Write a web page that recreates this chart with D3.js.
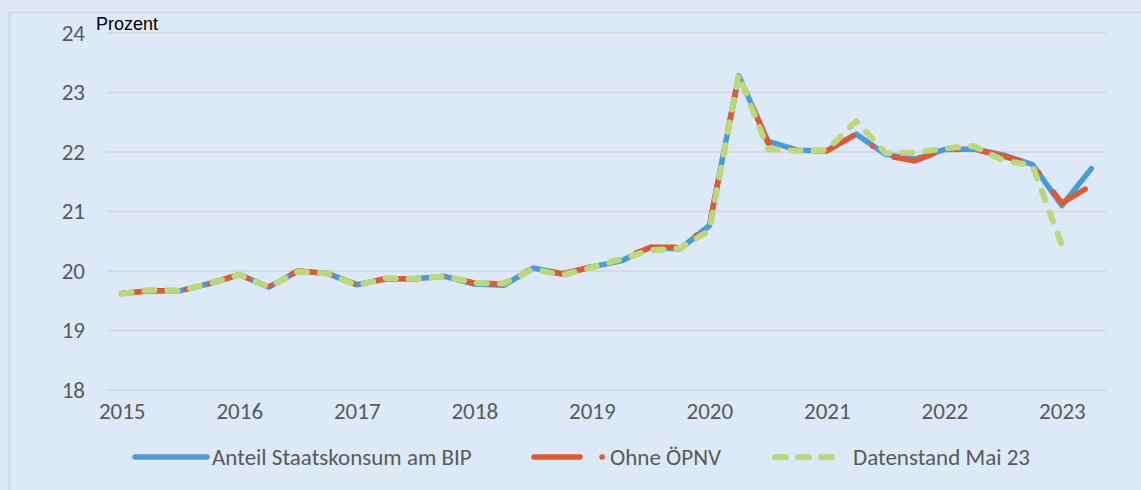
<!DOCTYPE html>
<html>
<head>
<meta charset="utf-8">
<script src="https://cdn.jsdelivr.net/npm/d3@7"></script>
<style>
  body { margin: 0; background: #dde9f7; }
  svg { display: block; }
</style>
</head>
<body>
<script>
// quarters 2015Q1 .. 2023Q2
const years = [2015, 2016, 2017, 2018, 2019, 2020, 2021, 2022, 2023]
const quarters = []
years.forEach(y => [1, 2, 3, 4].forEach(q => {
    if (y < 2023 || q <= 2) quarters.push(y + "Q" + q)
}))

const yTicks = [18, 19, 20, 21, 22, 23, 24]

const anteil = [19.62, 19.67, 19.67, 19.79, 19.94, 19.73, 20.00, 19.96,
    19.77, 19.87, 19.87, 19.91, 19.78, 19.76, 20.05, 19.95,
    20.07, 20.17, 20.40, 20.37, 20.76, 23.28, 22.18, 22.03,
    22.02, 22.30, 21.96, 21.88, 22.04, 22.05, 21.95, 21.79,
    21.10, 21.72]

const ohneOepnv = [19.62, 19.67, 19.67, 19.79, 19.94, 19.73, 20.00, 19.96,
    19.77, 19.87, 19.87, 19.91, 19.80, 19.78, 20.05, 19.95,
    20.07, 20.20, 20.40, 20.40, 20.76, 23.28, 22.15, 22.03,
    22.02, 22.30, 21.94, 21.85, 22.04, 22.05, 21.93, 21.79,
    21.14, 21.44]

const datenstandMai = [19.62, 19.68, 19.67, 19.79, 19.94, 19.73, 19.99, 19.96,
    19.76, 19.88, 19.87, 19.91, 19.80, 19.79, 20.03, 19.93,
    20.06, 20.20, 20.35, 20.38, 20.68, 23.30, 22.05, 22.02,
    22.03, 22.52, 21.98, 21.99, 22.06, 22.10, 21.86, 21.77,
    20.43]

const seriesNames = ["Anteil Staatskonsum am BIP", "Ohne ÖPNV", "Datenstand Mai 23"]

const width = 1141
const height = 490
const font = "Calibri, Carlito, Lato, sans-serif"
const fontSize = 23

const svg = d3.select("body").append("svg")
    .attr("width", width)
    .attr("height", height)

// outer chart border
svg.append("rect")
    .attr("x", 9.5).attr("y", 12.5)
    .attr("width", 1200).attr("height", 600)
    .attr("fill", "#dde9f7")
    .attr("stroke", "#d3d9e0")
    .attr("stroke-width", 2)

const x = d3.scalePoint()
    .domain(quarters)
    .range([107, 1106])
    .padding(0.5)

const y = d3.scaleLinear()
    .domain([18, 24])
    .range([390, 33])

// gridlines
svg.append("g").selectAll("line")
    .data(yTicks)
    .enter().append("line")
        .attr("x1", 107).attr("x2", 1106)
        .attr("y1", d => y(d)).attr("y2", d => y(d))
        .attr("stroke", "#d6d9dc")
        .attr("stroke-width", 2)

// y axis labels
let yAxis = svg.append("g")
    .attr("transform", "translate(85,0)")
    .call(d3.axisLeft(y).tickValues(yTicks).tickFormat(d3.format("d"))
        .tickSize(0).tickPadding(0))
yAxis.select(".domain").remove()
yAxis.selectAll("text")
    .attr("font-family", font).attr("font-size", fontSize)
    .attr("fill", "#595959")

// x axis labels
let xAxis = svg.append("g")
    .attr("transform", "translate(0,403)")
    .call(d3.axisBottom(x)
        .tickValues(quarters.filter(q => q.endsWith("Q1")))
        .tickFormat(q => q.slice(0, 4))
        .tickSize(0).tickPadding(0))
xAxis.select(".domain").remove()
xAxis.selectAll("text")
    .attr("font-family", font).attr("font-size", fontSize)
    .attr("fill", "#595959")

svg.append("text")
    .attr("x", 96).attr("y", 30)
    .attr("font-family", "Liberation Sans, Arial, sans-serif")
    .attr("font-size", 18)
    .attr("fill", "#000")
    .text("Prozent")

const line = d3.line()
    .x((d, i) => x(quarters[i]))
    .y(d => y(d))

const styles = [
    {data: anteil, color: "#4a9bd6", width: 5.5, dash: null},
    {data: ohneOepnv, color: "#dc5a35", width: 5.5, dash: "41 24 0.1 24"},
    {data: datenstandMai, color: "#bcd77c", width: 6, dash: "10 13"}
]

styles.forEach(s => {
    svg.append("path")
        .datum(s.data)
        .attr("d", line)
        .attr("fill", "none")
        .attr("stroke", s.color)
        .attr("stroke-width", s.width)
        .attr("stroke-linecap", "round")
        .attr("stroke-linejoin", "round")
        .attr("stroke-dasharray", s.dash)
})

// legend
const legendX = [135, 534, 775]
const legendY = 457
let legend = svg.append("g")
styles.forEach((s, i) => {
    let lx = legendX[i]
    if (i == 0) {
        legend.append("line").attr("x1", lx).attr("x2", lx + 72)
    } else if (i == 1) {
        legend.append("line").attr("x1", lx).attr("x2", lx + 46)
        legend.append("line").attr("x1", lx + 68).attr("x2", lx + 68.1)
    } else {
        legend.append("line").attr("x1", lx).attr("x2", lx + 64)
            .attr("stroke-dasharray", "11 12")
    }
    legend.selectAll("line:not([stroke])")
        .attr("y1", legendY).attr("y2", legendY)
        .attr("stroke", s.color)
        .attr("stroke-width", s.width)
        .attr("stroke-linecap", "round")
    legend.append("text")
        .attr("x", [212, 610, 853][i])
        .attr("y", legendY)
        .attr("dy", "0.35em")
        .attr("font-family", font).attr("font-size", fontSize)
        .attr("fill", "#595959")
        .text(seriesNames[i])
})
</script>
</body>
</html>
